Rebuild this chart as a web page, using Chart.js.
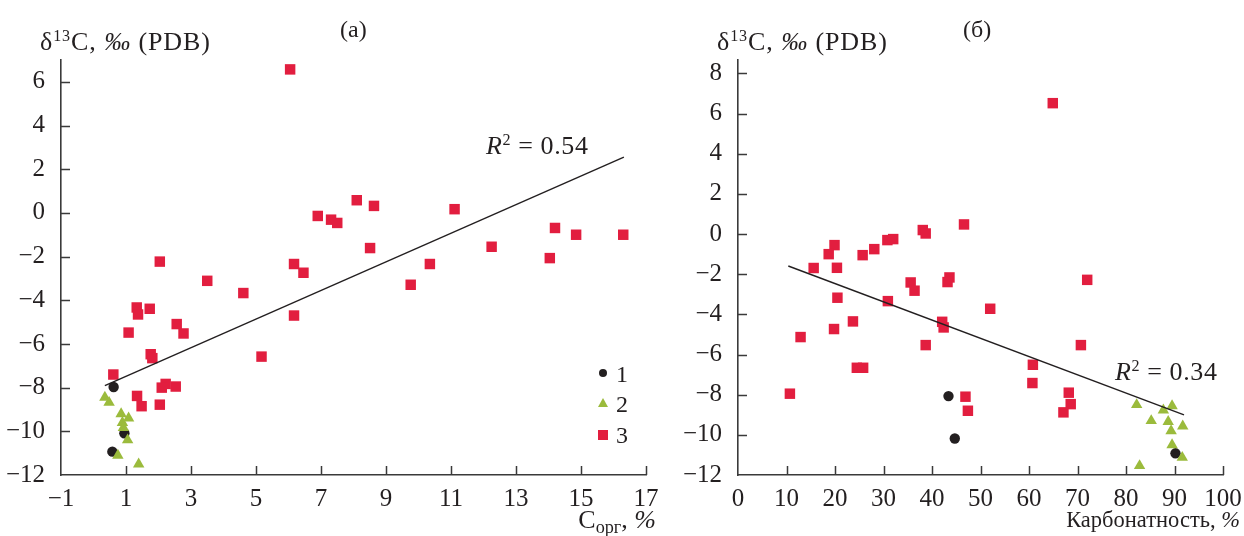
<!DOCTYPE html>
<html>
<head>
<meta charset="utf-8">
<script src="https://cdn.jsdelivr.net/npm/chart.js@4"></script>
<style>
  body { margin: 0; background: #fff; }
  #wrap { position: relative; width: 1244px; height: 536px; overflow: hidden; font-family: "Liberation Serif", "Times New Roman", serif; color: #231f20; }
  canvas { position: absolute; top: 0; }
  .txt { position: absolute; white-space: nowrap; line-height: 1; }
  .txt sup { font-size: 62%; vertical-align: 0.55em; line-height: 0; }
  .txt sub { font-size: 70%; vertical-align: -0.25em; line-height: 0; }
  .lg { position: absolute; }
</style>
</head>
<body>
<div id="wrap">
  <canvas id="chartA" width="660" height="536" style="left:0"></canvas>
  <canvas id="chartB" width="584" height="536" style="left:660px"></canvas>

  <div class="txt" style="left:40px; top:29px; font-size:26px; letter-spacing:0.9px">δ<sup>13</sup>C, <i>‰</i> (PDB)</div>
  <div class="txt" style="left:340px; top:17px; font-size:24px">(а)</div>
  <div class="txt" style="left:486px; top:133px; font-size:26px; letter-spacing:0.6px"><i>R</i><sup>2</sup> = 0.54</div>
  <div class="txt" style="right:588px; top:507px; font-size:26px">C<sub>орг</sub>, <i>%</i></div>

  <div class="txt" style="left:717px; top:29px; font-size:26px; letter-spacing:0.9px">δ<sup>13</sup>C, <i>‰</i> (PDB)</div>
  <div class="txt" style="left:963px; top:17px; font-size:24px">(б)</div>
  <div class="txt" style="left:1115px; top:359px; font-size:26px; letter-spacing:0.6px"><i>R</i><sup>2</sup> = 0.34</div>
  <div class="txt" style="right:4px; top:509px; font-size:22.5px">Карбонатность, <i>%</i></div>

  <!-- legend of panel (а) -->
  <div class="lg" style="left:599px; top:369px; width:8px; height:8px; border-radius:50%; background:#231f20"></div>
  <div class="lg" style="left:598px; top:398px; width:0; height:0; border-left:5px solid transparent; border-right:5px solid transparent; border-bottom:9px solid #9bbb3c"></div>
  <div class="lg" style="left:598px; top:430px; width:10px; height:10px; background:#e21e3f"></div>
  <div class="txt" style="left:616px; top:362px; font-size:24px">1</div>
  <div class="txt" style="left:616px; top:392px; font-size:24px">2</div>
  <div class="txt" style="left:616px; top:423px; font-size:24px">3</div>
</div>

<script>
// panel (а): d13C vs Corg
const xTicksA = [-1, 1, 3, 5, 7, 9, 11, 13, 15, 17];
const yTicksA = [-12, -10, -8, -6, -4, -2, 0, 2, 4, 6];
const circlesA = [
  {x: 0.62, y: -7.97}, {x: 0.95, y: -10.09}, {x: 0.58, y: -10.93}
];
const trianglesA = [
  {x: 0.35, y: -8.45}, {x: 0.48, y: -8.68}, {x: 0.85, y: -9.2}, {x: 1.08, y: -9.4},
  {x: 0.89, y: -9.6}, {x: 0.92, y: -9.83}, {x: 1.05, y: -10.4}, {x: 0.75, y: -11.1},
  {x: 1.39, y: -11.5}
];
const squaresA = [
  {x: 2.04, y: -2.23}, {x: 3.50, y: -3.11}, {x: 4.61, y: -3.67}, {x: 1.33, y: -4.33},
  {x: 1.37, y: -4.65}, {x: 1.73, y: -4.39}, {x: 1.08, y: -5.48}, {x: 2.56, y: -5.09},
  {x: 2.77, y: -5.52}, {x: 1.76, y: -6.47}, {x: 1.81, y: -6.65}, {x: 0.61, y: -7.40},
  {x: 2.22, y: -7.83}, {x: 2.10, y: -8.0}, {x: 2.53, y: -7.95}, {x: 1.34, y: -8.38},
  {x: 1.48, y: -8.85}, {x: 2.04, y: -8.78}, {x: 6.05, y: 6.57}, {x: 6.17, y: -2.34},
  {x: 6.46, y: -2.74}, {x: 6.90, y: -0.14}, {x: 7.31, y: -0.31}, {x: 7.50, y: -0.46},
  {x: 8.10, y: 0.58}, {x: 8.63, y: 0.32}, {x: 8.51, y: -1.61}, {x: 6.17, y: -4.70},
  {x: 5.17, y: -6.58}, {x: 9.76, y: -3.29}, {x: 10.35, y: -2.34}, {x: 11.11, y: 0.17},
  {x: 12.25, y: -1.55}, {x: 14.2, y: -0.69}, {x: 14.04, y: -2.07}, {x: 14.85, y: -1.0},
  {x: 16.30, y: -1.0}
];
const trendA = [{x: 0.35, y: -7.91}, {x: 16.32, y: 2.55}];

// panel (б): d13C vs carbonate content
const xTicksB = [0, 10, 20, 30, 40, 50, 60, 70, 80, 90, 100];
const yTicksB = [-12, -10, -8, -6, -4, -2, 0, 2, 4, 6, 8];
const circlesB = [
  {x: 43.4, y: -8.07}, {x: 44.7, y: -10.18}, {x: 90.2, y: -10.92}
];
const trianglesB = [
  {x: 82.2, y: -8.5}, {x: 85.2, y: -9.3}, {x: 87.7, y: -8.77}, {x: 89.5, y: -8.56},
  {x: 88.7, y: -9.34}, {x: 89.3, y: -9.8}, {x: 91.7, y: -9.57}, {x: 89.5, y: -10.5},
  {x: 91.6, y: -11.13}, {x: 82.8, y: -11.54}
];
const squaresB = [
  {x: 46.6, y: 0.48}, {x: 38.1, y: 0.2}, {x: 38.7, y: 0.03}, {x: 30.8, y: -0.3},
  {x: 32.0, y: -0.25}, {x: 28.1, y: -0.75}, {x: 25.7, y: -1.05}, {x: 19.9, y: -0.55},
  {x: 18.7, y: -1.0}, {x: 15.6, y: -1.69}, {x: 20.4, y: -1.68}, {x: 20.5, y: -3.17},
  {x: 12.9, y: -5.13}, {x: 19.8, y: -4.73}, {x: 23.7, y: -4.35}, {x: 24.5, y: -6.66},
  {x: 25.8, y: -6.66}, {x: 10.7, y: -7.95}, {x: 30.9, y: -3.34}, {x: 35.6, y: -2.41},
  {x: 36.4, y: -2.82}, {x: 43.6, y: -2.16}, {x: 43.2, y: -2.39}, {x: 42.1, y: -4.37},
  {x: 42.4, y: -4.65}, {x: 38.7, y: -5.53}, {x: 52.0, y: -3.72}, {x: 46.9, y: -8.1},
  {x: 47.4, y: -8.8}, {x: 64.9, y: 6.52}, {x: 72.0, y: -2.28}, {x: 70.7, y: -5.53},
  {x: 60.8, y: -6.51}, {x: 60.7, y: -7.42}, {x: 68.2, y: -7.9}, {x: 68.6, y: -8.47},
  {x: 67.1, y: -8.88}
];
const trendB = [{x: 10.37, y: -1.59}, {x: 91.96, y: -9.01}];

const INK = '#231f20';
const AXIS = '#3a3a3a';
const RED = '#e21e3f';
const GREEN = '#9bbb3c';
const tickFont = { family: 'Liberation Serif, Times New Roman, serif', size: 25 };

// tick marks point into the plot
const inwardTicks = {
  id: 'inwardTicks',
  beforeDatasetsDraw(chart) {
    const { ctx, chartArea: a, scales } = chart;
    ctx.save();
    ctx.strokeStyle = AXIS;
    ctx.lineWidth = 1.5;
    ctx.beginPath();
    scales.x.ticks.forEach(t => {
      const px = Math.round(scales.x.getPixelForValue(t.value)) + 0.5;
      if (px - a.left < 2) return;
      ctx.moveTo(px, a.bottom);
      ctx.lineTo(px, a.bottom - 9);
    });
    scales.y.ticks.forEach(t => {
      const py = Math.round(scales.y.getPixelForValue(t.value)) + 0.5;
      if (a.bottom - py < 2) return;
      ctx.moveTo(a.left, py);
      ctx.lineTo(a.left + 9, py);
    });
    ctx.stroke();
    ctx.restore();
  }
};

const minus = v => String(v).replace('-', '\u2212');

function makeChart(id, o) {
  return new Chart(document.getElementById(id), {
    type: 'scatter',
    data: {
      datasets: [
        { type: 'line', data: o.trend, borderColor: INK, borderWidth: 1.4, pointRadius: 0, fill: false },
        { data: o.squares, pointStyle: 'rect', pointRadius: 7.4, backgroundColor: RED, borderWidth: 0 },
        { data: o.triangles, pointStyle: 'triangle', pointRadius: 6.6, backgroundColor: GREEN, borderWidth: 0 },
        { data: o.circles, pointStyle: 'circle', pointRadius: 5.2, backgroundColor: INK, borderWidth: 0 }
      ]
    },
    options: {
      responsive: false,
      animation: false,
      devicePixelRatio: 1,
      layout: { padding: { left: 0, top: 60, right: o.padRight, bottom: 0 } },
      plugins: { legend: { display: false }, tooltip: { enabled: false } },
      elements: { point: { hoverRadius: 0 } },
      scales: {
        x: {
          type: 'linear', min: o.xMin, max: o.xMax,
          afterBuildTicks: s => { s.ticks = o.xTicks.map(v => ({ value: v })); },
          afterFit: s => { s.height = 61; s.paddingLeft = 0; s.paddingRight = 0; },
          grid: { display: false },
          border: { color: AXIS, width: 1.6 },
          ticks: { font: tickFont, color: INK, padding: 1, maxRotation: 0, autoSkip: false, callback: minus }
        },
        y: {
          type: 'linear', min: -12, max: o.yMax,
          afterBuildTicks: s => { s.ticks = o.yTicks.map(v => ({ value: v })); },
          afterFit: s => { s.width = o.yWidth; s.paddingTop = 0; s.paddingBottom = 0; },
          grid: { display: false },
          border: { color: AXIS, width: 1.6 },
          ticks: { font: tickFont, color: INK, padding: 8, autoSkip: false, callback: minus }
        }
      }
    },
    plugins: [inwardTicks]
  });
}

makeChart('chartA', {
  trend: trendA, squares: squaresA, triangles: trianglesA, circles: circlesA,
  xMin: -1, xMax: 17, yMax: 7, xTicks: xTicksA, yTicks: yTicksA, yWidth: 61, padRight: 14
});
makeChart('chartB', {
  trend: trendB, squares: squaresB, triangles: trianglesB, circles: circlesB,
  xMin: 0, xMax: 100, yMax: 8.67, xTicks: xTicksB, yTicks: yTicksB, yWidth: 78, padRight: 21
});
</script>
</body>
</html>
